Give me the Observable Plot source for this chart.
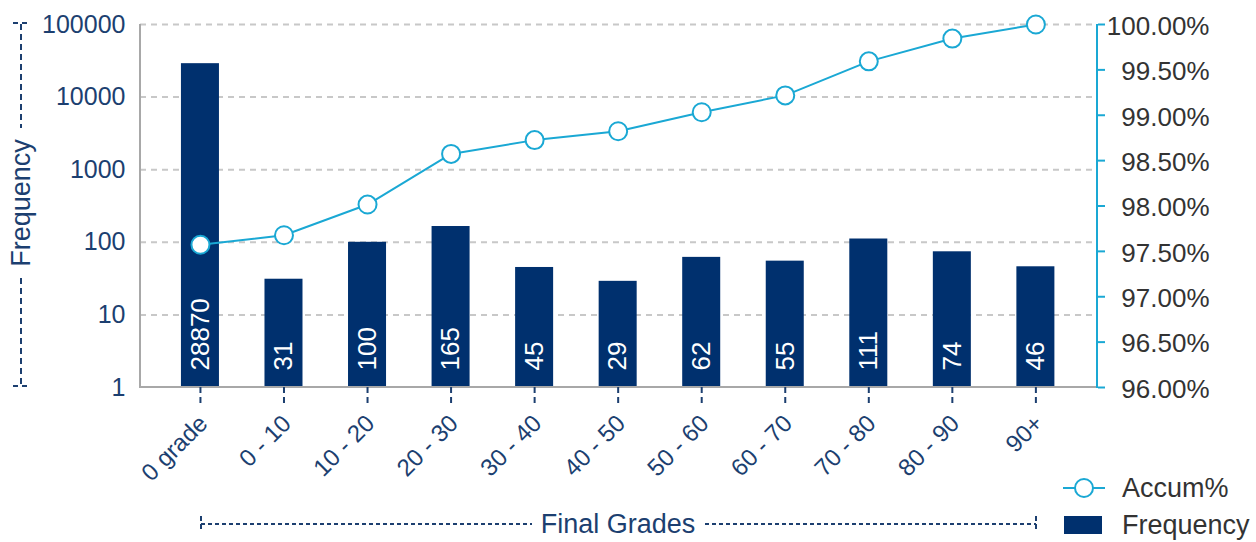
<!DOCTYPE html>
<html>
<head>
<meta charset="utf-8">
<script src="https://cdn.jsdelivr.net/npm/d3@7"></script>
<script src="https://cdn.jsdelivr.net/npm/@observablehq/plot@0.6"></script>
<style>
  html, body { margin: 0; padding: 0; background: #fff; }
  #wrap { position: relative; width: 1256px; height: 542px; font-family: "Liberation Sans", Arial, sans-serif; }
  #wrap svg { position: absolute; left: 0; top: 0; }
</style>
</head>
<body>
<div id="wrap"></div>
<script>
const categories = ["0 grade", "0 - 10", "10 - 20", "20 - 30", "30 - 40", "40 - 50", "50 - 60", "60 - 70", "70 - 80", "80 - 90", "90+"];
const frequency = [28870, 31, 100, 165, 45, 29, 62, 55, 111, 74, 46];
const accumPct = [97.573, 97.678, 98.016, 98.574, 98.726, 98.824, 99.033, 99.219, 99.594, 99.845, 100.0];
const leftTicks = [1, 10, 100, 1000, 10000, 100000];
const rightTicks = [96, 96.5, 97, 97.5, 98, 98.5, 99, 99.5, 100];

const NAVY = "#00306e";
const TEXTNAVY = "#1c3f70";
const CYAN = "#1aa8d4";
const GRID = "#c8c8c8";
const AXISGRAY = "#a8a8a8";

const data = categories.map((c, i) => ({cat: c, freq: frequency[i], pct: accumPct[i]}));

// map accumulated percent [96,100] onto the log frequency domain [1,1e5]
const pctMin = rightTicks[0], pctMax = rightTicks[rightTicks.length - 1];
const decades = Math.log10(leftTicks[leftTicks.length - 1] / leftTicks[0]);
const pctToY = p => leftTicks[0] * 10 ** ((p - pctMin) / (pctMax - pctMin) * decades);

const W = 1256, H = 542;
const mL = 140, mR = 159, mT = 24, mB = 155;

// axis lines drawn from the chart dimensions
const axisLines = (index, scales, values, dims) => {
  const g = d3.create("svg:g");
  const x0 = dims.marginLeft, x1 = dims.width - dims.marginRight;
  const y0 = dims.marginTop, y1 = dims.height - dims.marginBottom;
  g.append("line").attr("x1", x0).attr("x2", x0).attr("y1", y0).attr("y2", y1 + 1)
    .attr("stroke", AXISGRAY).attr("stroke-width", 2);
  g.append("line").attr("x1", x0).attr("x2", x1).attr("y1", y1).attr("y2", y1)
    .attr("stroke", AXISGRAY).attr("stroke-width", 2);
  g.append("line").attr("x1", x1).attr("x2", x1).attr("y1", y0).attr("y2", y1 + 1)
    .attr("stroke", CYAN).attr("stroke-width", 2);
  return g.node();
};

const chart = Plot.plot({
  width: W,
  height: H,
  marginLeft: mL,
  marginRight: mR,
  marginTop: mT,
  marginBottom: mB,
  style: {fontFamily: "'Liberation Sans', Arial, sans-serif", background: "transparent", overflow: "visible"},
  x: {domain: categories, paddingInner: 0.545, paddingOuter: 0.5, align: 0.49, round: false, axis: null},
  y: {type: "log", domain: [leftTicks[0], leftTicks[leftTicks.length - 1]], axis: null},
  marks: [
    Plot.ruleY(leftTicks.slice(1), {stroke: GRID, strokeWidth: 2, strokeDasharray: "6,5"}),
    Plot.barY(data, {x: "cat", y1: leftTicks[0], y2: "freq", fill: NAVY}),
    Plot.text(data, {x: "cat", y: leftTicks[0], text: d => String(d.freq), rotate: -90, textAnchor: "start", dy: -17, fill: "white", fontSize: 26}),
    axisLines,
    Plot.line(data, {x: "cat", y: d => pctToY(d.pct), stroke: CYAN, strokeWidth: 2}),
    Plot.dot(data, {x: "cat", y: d => pctToY(d.pct), r: 9, fill: "white", stroke: CYAN, strokeWidth: 2}),
    Plot.axisY(leftTicks, {anchor: "left", label: null, tickSize: 0, tickPadding: 15, tickFormat: d => String(d), fontSize: 25, fill: TEXTNAVY}),
    Plot.axisY(rightTicks.map(pctToY), {anchor: "right", label: null, tickSize: 7, text: null, stroke: CYAN, strokeWidth: 2}),
    Plot.text(rightTicks, {y: pctToY, frameAnchor: "right", text: d => d.toFixed(2) + "%", textAnchor: "end", dx: 112, dy: 2, fontSize: 26, fill: "#333", letterSpacing: "0.8px"}),
    Plot.axisX({anchor: "bottom", label: null, tickSize: 17, tickPadding: 0, stroke: TEXTNAVY, strokeWidth: 2, strokeDasharray: "6,4", tickFormat: () => ""}),
    Plot.axisX({anchor: "bottom", label: null, tickSize: 0, tickPadding: 32, tickRotate: -45, fontSize: 24, fill: TEXTNAVY, dx: 3})
  ]
});

document.getElementById("wrap").appendChild(chart);

// decorations: axis titles and legend
const ov = d3.select("#wrap").append("svg").attr("width", W).attr("height", H)
  .style("font-family", "'Liberation Sans', Arial, sans-serif");

// y title
const yt = ov.append("g");
yt.append("line").attr("x1", 21).attr("x2", 21).attr("y1", 24).attr("y2", 128)
  .attr("stroke", TEXTNAVY).attr("stroke-width", 2).attr("stroke-dasharray", "6,4");
yt.append("line").attr("x1", 21).attr("x2", 21).attr("y1", 278).attr("y2", 386)
  .attr("stroke", TEXTNAVY).attr("stroke-width", 2).attr("stroke-dasharray", "6,4");
yt.append("line").attr("x1", 13).attr("x2", 30).attr("y1", 23).attr("y2", 23)
  .attr("stroke", TEXTNAVY).attr("stroke-width", 2).attr("stroke-dasharray", "5,4");
yt.append("line").attr("x1", 13).attr("x2", 30).attr("y1", 386).attr("y2", 386)
  .attr("stroke", TEXTNAVY).attr("stroke-width", 2).attr("stroke-dasharray", "5,4");
yt.append("text").attr("transform", "translate(21,203) rotate(-90)")
  .attr("text-anchor", "middle").attr("dominant-baseline", "central")
  .attr("font-size", 27).attr("fill", TEXTNAVY).text("Frequency");

// x title
const xt = ov.append("g");
xt.append("line").attr("x1", 201).attr("x2", 532).attr("y1", 524).attr("y2", 524)
  .attr("stroke", TEXTNAVY).attr("stroke-width", 2).attr("stroke-dasharray", "4,3");
xt.append("line").attr("x1", 705).attr("x2", 1036).attr("y1", 524).attr("y2", 524)
  .attr("stroke", TEXTNAVY).attr("stroke-width", 2).attr("stroke-dasharray", "4,3");
xt.append("line").attr("x1", 201).attr("x2", 201).attr("y1", 516).attr("y2", 532)
  .attr("stroke", TEXTNAVY).attr("stroke-width", 2).attr("stroke-dasharray", "5,3");
xt.append("line").attr("x1", 1036).attr("x2", 1036).attr("y1", 516).attr("y2", 532)
  .attr("stroke", TEXTNAVY).attr("stroke-width", 2).attr("stroke-dasharray", "5,3");
xt.append("text").attr("x", 618).attr("y", 524).attr("text-anchor", "middle").attr("dominant-baseline", "central")
  .attr("font-size", 27).attr("fill", TEXTNAVY).text("Final Grades");

// legend
const lg = ov.append("g");
lg.append("line").attr("x1", 1063).attr("x2", 1105).attr("y1", 488).attr("y2", 488)
  .attr("stroke", CYAN).attr("stroke-width", 2);
lg.append("circle").attr("cx", 1084).attr("cy", 488).attr("r", 9)
  .attr("fill", "white").attr("stroke", CYAN).attr("stroke-width", 2);
lg.append("text").attr("x", 1122).attr("y", 488).attr("dominant-baseline", "central")
  .attr("font-size", 27).attr("fill", "#333").text("Accum%");
lg.append("rect").attr("x", 1064).attr("y", 516).attr("width", 38).attr("height", 18).attr("fill", NAVY);
lg.append("text").attr("x", 1122).attr("y", 525).attr("dominant-baseline", "central")
  .attr("font-size", 27).attr("fill", "#333").text("Frequency");
</script>
</body>
</html>
